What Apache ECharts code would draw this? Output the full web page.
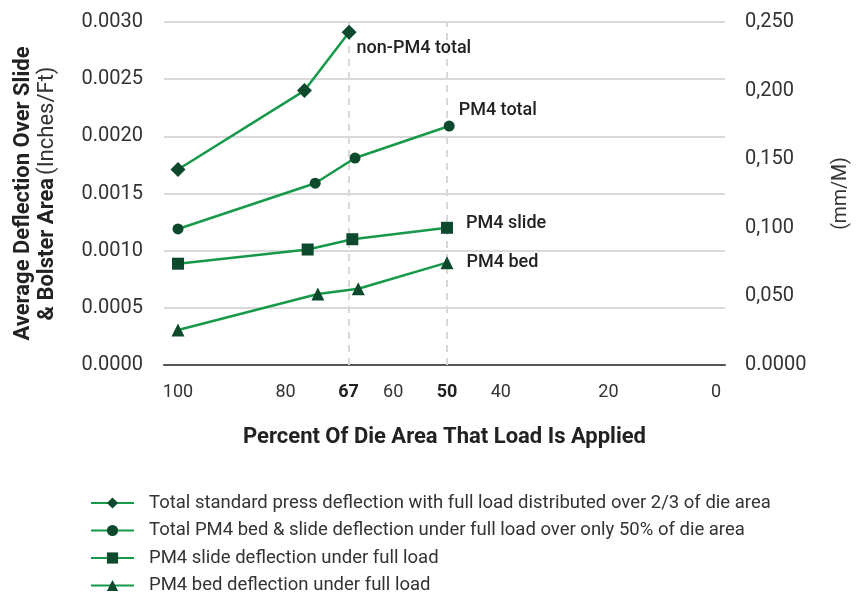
<!DOCTYPE html>
<html>
<head>
<meta charset="utf-8">
<script src="https://cdn.jsdelivr.net/npm/echarts@6/dist/echarts.min.js"></script>
<style>html,body{margin:0;padding:0;background:#fff}#c{width:859px;height:597px}</style>
</head>
<body>
<div id="c"></div>
<script>
// ---- data ----
const seriesNames = [
  'Total standard press deflection with full load distributed over 2/3 of die area',
  'Total PM4 bed & slide deflection under full load over only 50% of die area',
  'PM4 slide deflection under full load',
  'PM4 bed deflection under full load'
];
const endLabels = ['non-PM4 total', 'PM4 total', 'PM4 slide', 'PM4 bed'];
const stdX = [100, 76.5, 68.2];
const stdY = [0.00171, 0.00240, 0.00291];
const totX = [100, 74.5, 67.1, 49.6];
const totY = [0.00119, 0.00159, 0.00181, 0.00209];
const slideX = [100, 75.9, 67.6, 50];
const slideY = [0.000886, 0.00101, 0.00110, 0.00120];
const bedX = [100, 74.0, 66.5, 50];
const bedY = [0.000306, 0.000621, 0.000667, 0.000895];
const xTickValues = [100, 80, 68.3, 60, 50, 40, 20, 0];
const xTickLabels = ['100', '80', '67', '60', '50', '40', '20', '0'];
const xBoldLabels = ['67', '50'];
const refLines = [68.3, 50];
const leftTickLabels = ['0.0000', '0.0005', '0.0010', '0.0015', '0.0020', '0.0025', '0.0030'];
const rightTickLabels = ['0.0000', '0,050', '0,100', '0,150', '0,200', '0,250'];

// ---- chart ----
const LINE = '#17994a';
const MARK = '#0d4a2d';
const FONT = 'Roboto, "Noto Sans", sans-serif';
const chart = echarts.init(document.getElementById('c'), null, {renderer: 'canvas'});

function pts(xs, ys) { return xs.map((x, i) => [x, ys[i]]); }

const labelCfg = [
  {position: 'right', distance: 0, offset: [0, 16]},
  {position: 'right', distance: 4, offset: [0, -16]},
  {position: 'right', distance: 13, offset: [0, -4]},
  {position: 'right', distance: 13, offset: [0, 0]}
];
const symbols = ['diamond', 'circle', 'rect', 'triangle'];
const sizes = [15, 11, 12, 13];
const datas = [pts(stdX, stdY), pts(totX, totY), pts(slideX, slideY), pts(bedX, bedY)];

const series = datas.map((d, si) => {
  const data = d.map((p, i) => {
    if (i === d.length - 1) {
      return {value: p, label: Object.assign({
        show: true, formatter: endLabels[si], color: '#222', fontSize: 18,
        fontWeight: 500, fontFamily: FONT
      }, labelCfg[si])};
    }
    return p;
  });
  const s = {
    name: seriesNames[si], type: 'line', data: data,
    symbol: symbols[si], symbolSize: sizes[si],
    lineStyle: {color: LINE, width: 2.5},
    itemStyle: {color: MARK},
    label: {show: false},
    z: 3, animation: false
  };
  if (si === 0) {
    s.markLine = {
      silent: true, symbol: 'none', label: {show: false},
      lineStyle: {color: '#d9d9d9', type: [7, 6], width: 2},
      data: refLines.map(v => ({xAxis: v})), z: 1, animation: false
    };
  }
  return s;
});

chart.setOption({
  backgroundColor: '#fff',
  textStyle: {fontFamily: FONT},
  grid: {left: 164, right: 129, top: 22, bottom: 232},
  legend: {
    orient: 'vertical', left: 90, top: 492, padding: 0,
    itemWidth: 43, itemHeight: 14, itemGap: 5.5,
    textStyle: {fontSize: 18.5, lineHeight: 22, color: '#333', fontFamily: FONT, padding: [0, 0, 0, 10]},
    data: seriesNames
  },
  xAxis: {
    type: 'value', inverse: true, min: -1.66, max: 102.6,
    name: 'Percent Of Die Area That Load Is Applied',
    nameLocation: 'middle', nameGap: 61,
    nameTextStyle: {fontSize: 22, fontWeight: 'bold', color: '#222', fontFamily: FONT},
    axisLine: {show: true, lineStyle: {color: '#555', width: 2}},
    axisTick: {show: false},
    splitLine: {show: false},
    axisLabel: {
      customValues: xTickValues, margin: 18, fontSize: 18, color: '#333',
      formatter: function (v) {
        let idx = -1;
        xTickValues.forEach((t, i) => { if (Math.abs(t - v) < 0.01) idx = i; });
        const lab = idx >= 0 ? xTickLabels[idx] : '';
        return xBoldLabels.indexOf(lab) >= 0 ? '{b|' + lab + '}' : lab;
      },
      rich: {b: {fontWeight: 'bold', fontSize: 18, color: '#222', fontFamily: FONT}}
    }
  },
  yAxis: [{
    type: 'value', min: 0, max: 0.003, interval: 0.0005, position: 'left',
    name: '{b|Average Deflection Over Slide}\n{b|& Bolster Area} {n|(Inches/Ft)}',
    nameLocation: 'middle', nameGap: 105, nameRotate: 90,
    nameTextStyle: {
      verticalAlign: 'bottom', align: 'center', lineHeight: 24,
      rich: {
        b: {fontWeight: 'bold', fontSize: 22, color: '#222', lineHeight: 24, fontFamily: FONT},
        n: {fontWeight: 'normal', fontSize: 22, color: '#333', lineHeight: 24, fontFamily: FONT}
      }
    },
    axisLine: {show: false}, axisTick: {show: false},
    splitLine: {show: true, lineStyle: {color: '#cccccc', width: 1.5}},
    axisLabel: {
      margin: 21, fontSize: 20, color: '#333',
      formatter: function (v) { return leftTickLabels[Math.round(v / 0.0005)]; }
    }
  }, {
    type: 'value', min: 0, max: 0.25, interval: 0.05, position: 'right',
    name: '(mm/M)', nameLocation: 'middle', nameGap: 106, nameRotate: 90,
    nameTextStyle: {verticalAlign: 'top', align: 'center', fontSize: 19.5, color: '#333', fontFamily: FONT},
    axisLine: {show: false}, axisTick: {show: false},
    splitLine: {show: false},
    axisLabel: {
      margin: 20, fontSize: 20, color: '#333',
      formatter: function (v) { return rightTickLabels[Math.round(v / 0.05)]; }
    }
  }],
  series: series
});
</script>
</body>
</html>
